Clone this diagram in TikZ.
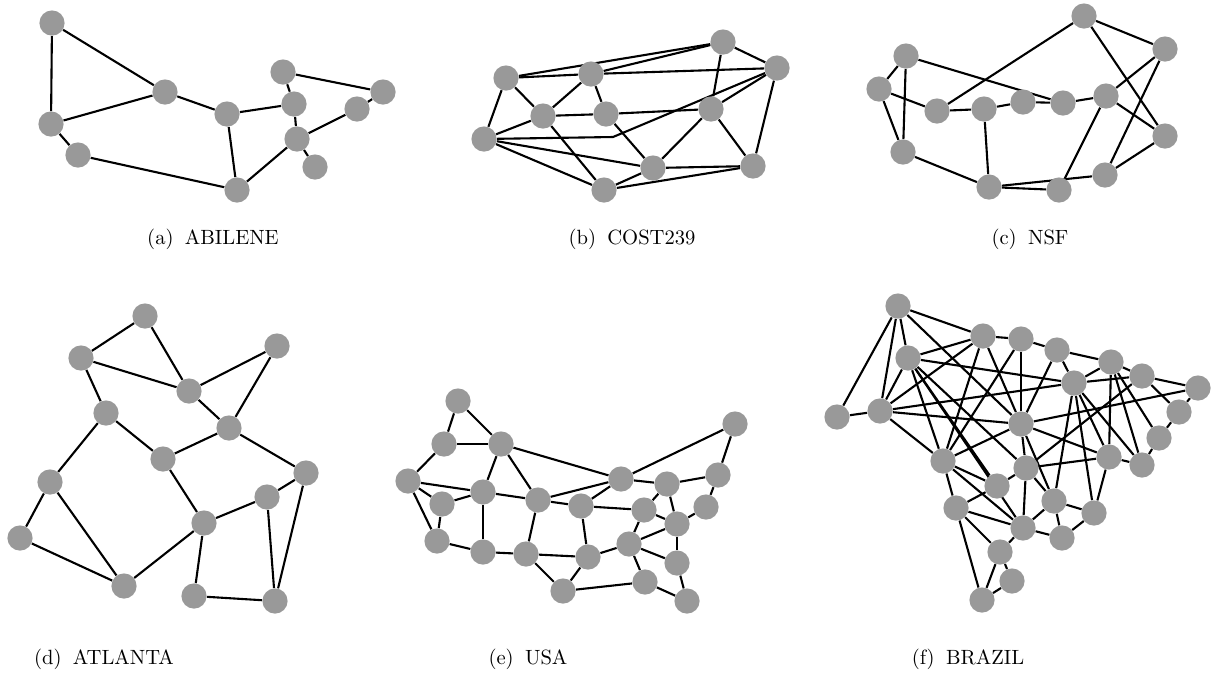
\documentclass[tikz,border=0pt]{standalone}
\usetikzlibrary{backgrounds}
\definecolor{nodegray}{RGB}{153,153,153}
\begin{document}
\begin{tikzpicture}[x=0.5pt,y=-0.5pt,
  vtx/.style={circle,fill=nodegray,draw=none,minimum size=12.6pt,inner sep=0pt},
  lnk/.style={line width=1.05pt,black},
  captxt/.style={font=\fontsize{10.3}{12}\selectfont,anchor=base}]
\useasboundingbox (0,0) rectangle (1214,677);
% ---------- (a) ABILENE ----------
\foreach \n/\x/\y in {a1/52/23,a2/165/92,a3/51/124,a4/78/155,a5/227/114,a6/283/72,a7/294/104,a8/297/139,a9/315/167,a10/237/190,a11/357/109,a12/383/92}
  \node[vtx] (\n) at (\x,\y) {};
\begin{scope}[on background layer]
\foreach \u/\v in {a1/a2,a1/a3,a2/a3,a2/a5,a3/a4,a4/a10,a5/a10,a5/a7,a6/a7,a6/a12,a7/a8,a8/a9,a8/a10,a8/a11,a11/a12}
  \draw[lnk] (\u) -- (\v);
\end{scope}
\node[captxt] (capa) at (213,244) {(a)\hspace{0.55em}ABILENE};
% ---------- (b) COST239 ----------
\foreach \n/\x/\y in {c1/723/42,c2/777/68,c3/506/78,c4/591/74,c5/543/116,c6/606/114,c7/711/109,c8/484/139,c9/653/168,c10/753/166,c11/604/190}
  \node[vtx] (\n) at (\x,\y) {};
\coordinate (cbend) at (613,137);
\begin{scope}[on background layer]
\foreach \u/\v in {c3/c1,c4/c1,c3/c4,c4/c2,c1/c2,c1/c7,c3/c5,c3/c8,c4/c5,c4/c6,c5/c6,c6/c7,c7/c2,c8/c5,c8/c9,c8/c11,c5/c11,c6/c9,c9/c7,c7/c10,c10/c2,c9/c10,c11/c9,c11/c10}
  \draw[lnk] (\u) -- (\v);
\draw[lnk] (c8) -- (cbend) -- (c2);
\end{scope}
\node[captxt] (capb) at (632,244) {(b)\hspace{0.55em}COST239};
% ---------- (c) NSF ----------
\foreach \n/\x/\y in {n1/1084/16,n2/1165/49,n3/906/56,n4/879/89,n5/937/111,n6/984/109,n7/1023/102,n8/1063/103,n9/1106/96,n10/1165/136,n11/903/152,n12/989/187,n13/1059/190,n14/1105/175}
  \node[vtx] (\n) at (\x,\y) {};
\begin{scope}[on background layer]
\foreach \u/\v in {n3/n4,n3/n11,n3/n8,n4/n5,n4/n11,n5/n1,n5/n6,n6/n7,n7/n8,n8/n9,n6/n12,n11/n12,n12/n13,n12/n14,n9/n13,n9/n2,n9/n10,n1/n2,n1/n10,n2/n14,n14/n10}
  \draw[lnk] (\u) -- (\v);
\end{scope}
\node[captxt] (capc) at (1030,244) {(c)\hspace{0.55em}NSF};
% ---------- (d) ATLANTA ----------
\foreach \n/\x/\y in {t1/145/316,t2/81/358,t3/277/346,t4/189/391,t5/106/413,t6/229/428,t7/163/459,t8/306/473,t9/50/482,t10/267/497,t11/204/523,t12/20/538,t13/124/586,t14/194/596,t15/275/601}
  \node[vtx] (\n) at (\x,\y) {};
\begin{scope}[on background layer]
\foreach \u/\v in {t1/t2,t1/t4,t2/t4,t2/t5,t3/t4,t3/t6,t4/t6,t5/t7,t5/t9,t6/t7,t6/t8,t7/t11,t8/t10,t8/t15,t10/t11,t10/t15,t9/t12,t9/t13,t12/t13,t13/t11,t11/t14,t14/t15}
  \draw[lnk] (\u) -- (\v);
\end{scope}
\node[captxt] (capd) at (104,664) {(d)\hspace{0.55em}ATLANTA};
% ---------- (e) USA ----------
\foreach \n/\x/\y in {u1/458/401,u2/444/444,u3/501/444,u4/735/424,u5/408/481,u6/483/492,u7/442/504,u8/538/500,u9/621/479,u10/667/484,u11/718/475,u12/581/506,u13/644/510,u14/706/507,u15/677/524,u16/437/541,u17/483/552,u18/526/554,u19/588/557,u20/629/544,u21/677/563,u22/563/591,u23/645/582,u24/687/601}
  \node[vtx] (\n) at (\x,\y) {};
\begin{scope}[on background layer]
\foreach \u/\v in {u1/u2,u1/u3,u2/u3,u2/u5,u3/u6,u3/u8,u3/u9,u9/u4,u4/u11,u5/u6,u5/u7,u5/u16,u7/u6,u7/u16,u6/u8,u6/u17,u8/u9,u8/u12,u8/u18,u9/u10,u9/u12,u10/u11,u10/u13,u10/u15,u11/u14,u12/u13,u12/u19,u13/u15,u13/u20,u14/u15,u15/u20,u15/u21,u16/u17,u17/u18,u18/u19,u18/u22,u19/u20,u19/u22,u20/u21,u20/u23,u22/u23,u23/u24,u21/u24}
  \draw[lnk] (\u) -- (\v);
\end{scope}
\node[captxt] (cape) at (528,664) {(e)\hspace{0.55em}USA};
% ---------- (f) BRAZIL ----------
\foreach \n/\x/\y in {b1/898/306,b2/908/358,b3/837/417,b4/880/411,b5/983/336,b6/1021/339,b7/1057/350,b8/1111/362,b9/1074/383,b10/1142/376,b11/1198/388,b12/1179/412,b13/1159/438,b14/1021/424,b15/943/461,b16/1026/468,b17/1109/457,b18/1142/465,b19/997/486,b20/956/508,b21/1054/501,b22/1094/513,b23/1023/528,b24/1062/538,b25/1000/552,b26/1012/581,b27/982/600}
  \node[vtx] (\n) at (\x,\y) {};
\begin{scope}[on background layer]
\foreach \u/\v in {b1/b2,b1/b3,b1/b4,b1/b5,b1/b14,
  b2/b4,b2/b5,b2/b9,b2/b15,b2/b16,b2/b19,b2/b23,
  b3/b4,b4/b5,b4/b14,b4/b15,b4/b9,
  b5/b6,b5/b15,b5/b14,b6/b7,b6/b14,b6/b15,
  b7/b8,b7/b9,b7/b14,
  b8/b9,b8/b10,b8/b13,b8/b17,b8/b18,
  b9/b10,b9/b21,b9/b22,b9/b17,b9/b18,
  b10/b11,b10/b16,b10/b12,
  b11/b12,b11/b14,b12/b13,b13/b18,
  b14/b16,b14/b17,b14/b21,b15/b14,
  b15/b19,b15/b20,b15/b23,
  b16/b17,b16/b19,b16/b23,b16/b21,
  b17/b18,b17/b22,b19/b20,
  b20/b23,b20/b25,b20/b27,
  b21/b22,b21/b23,b21/b24,b22/b24,b23/b24,b23/b25,
  b25/b26,b25/b27,b26/b27}
  \draw[lnk] (\u) -- (\v);
\end{scope}
\node[captxt] (capf) at (968,664) {(f)\hspace{0.55em}BRAZIL};
\end{tikzpicture}
\end{document}
